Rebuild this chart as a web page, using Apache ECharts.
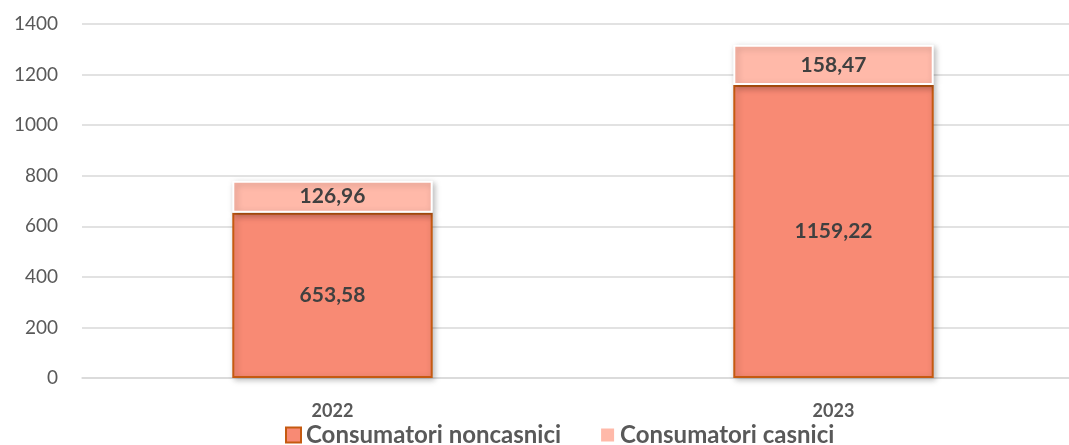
<!DOCTYPE html>
<html>
<head>
<meta charset="utf-8">
<script src="https://cdn.jsdelivr.net/npm/echarts@6/dist/echarts.min.js"></script>
<style>
  html, body { margin: 0; padding: 0; background: #fff; }
  #chart { width: 1069px; height: 445px; }
</style>
</head>
<body>
<div id="chart"></div>
<script>
const years = ['2022', '2023'];
const noncasnici = [653.58, 1159.22];
const casnici = [126.96, 158.47];
const yTicks = [0, 200, 400, 600, 800, 1000, 1200, 1400];

const FONT = 'Lato';
const fmt = v => v.toFixed(2).replace('.', ',');

const myChart = echarts.init(document.getElementById('chart'));

const shadow = {
    shadowColor: 'rgba(0,0,0,0.25)',
    shadowBlur: 6,
    shadowOffsetX: 2,
    shadowOffsetY: 2
};

myChart.setOption({
    animation: false,
    grid: {
        left: 82,
        top: 24,
        width: 1002,
        height: 354,
        outerBoundsMode: 'none'
    },
    legend: {
        bottom: -7,
        left: 280,
        icon: 'rect',
        itemWidth: 15,
        itemHeight: 15,
        itemGap: 38,
        textStyle: {
            fontFamily: FONT,
            fontSize: 24,
            fontWeight: 'bold',
            color: '#595959'
        },
        data: ['Consumatori noncasnici', 'Consumatori casnici']
    },
    xAxis: {
        type: 'category',
        data: years,
        axisLine: { show: true, lineStyle: { color: '#d9d9d9', width: 1.5 } },
        axisTick: { show: false },
        axisLabel: {
            fontFamily: FONT,
            fontSize: 18,
            fontWeight: 'bold',
            color: '#595959',
            margin: 24
        }
    },
    yAxis: {
        type: 'value',
        min: yTicks[0],
        max: yTicks[yTicks.length - 1],
        interval: 200,
        axisLine: { show: false },
        axisTick: { show: false },
        splitLine: { lineStyle: { color: '#d9d9d9', width: 1.5 } },
        axisLabel: {
            fontFamily: FONT,
            fontSize: 19,
            color: '#595959',
            margin: 24,
            formatter: v => String(v)
        }
    },
    series: [
        {
            name: 'Consumatori noncasnici',
            type: 'bar',
            stack: 'total',
            barWidth: '40%',
            data: noncasnici,
            itemStyle: Object.assign({
                color: '#F88A74',
                borderColor: '#C55A11',
                borderWidth: 2
            }, shadow),
            label: {
                show: true,
                position: 'inside',
                formatter: p => fmt(p.value),
                fontFamily: FONT,
                fontSize: 21,
                fontWeight: 'bold',
                color: '#404040'
            }
        },
        {
            name: 'Consumatori casnici',
            type: 'bar',
            stack: 'total',
            barWidth: '40%',
            data: casnici,
            itemStyle: Object.assign({
                color: '#FFB9A9',
                borderColor: '#ffffff',
                borderWidth: 2
            }, shadow),
            label: {
                show: true,
                position: 'inside',
                formatter: p => fmt(p.value),
                fontFamily: FONT,
                fontSize: 21,
                fontWeight: 'bold',
                color: '#404040'
            }
        }
    ]
});
</script>
</body>
</html>
